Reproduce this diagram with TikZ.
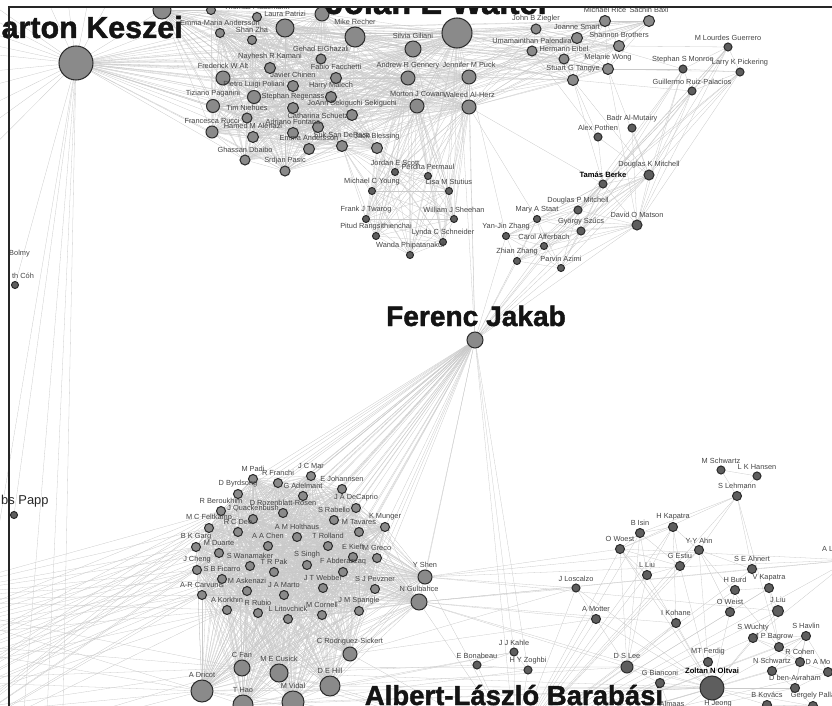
\documentclass[tikz,border=0pt]{standalone}
\usepackage{fontspec}
\setmainfont{Liberation Sans}
\newfontfamily\heavyfont{Liberation Sans}[BoldFeatures={FakeBold=1.5}]
\usepackage{tikz}
\usetikzlibrary{backgrounds}

\definecolor{nodefill}{HTML}{8A8A8A}
\definecolor{nodedark}{HTML}{5E5E5E}
\definecolor{nodeline}{HTML}{2E2E2E}
\definecolor{edgegray}{HTML}{C9C9C9}
\definecolor{labelgray}{HTML}{444444}

% groups of authors that are joined among themselves
\newcommand{\walternames}{ntopa,ntopb,fiddemann,patrizi,ntopc,emanders,zha,recher,elghazali,kamani,alt,facchetti,chinen,poliani,malech,paganini,regenass,sekiguchi,niehues,schuetz,rucci,alenazi,fontana,andersson,derosa,blessing,dbaibo,pasic,giliani,walter,gennery,puck,cowan,alherz}
\newcommand{\eastnames}{ziegler,rice,baxi,smart,brothers,palendira,eibel,wong,tangye}
\newcommand{\youngnames}{scott,permaul,young,stutius,twarog,sheehan,rangsi,schneider,phipat}
\newcommand{\berkenames}{berke,dkmitchell,dpmitchell,szucs,matson,staat,jzhang,afferbach,zzhang,azimi}
\newcommand{\guerreronames}{guerrero,monroe,pickering,ruiz}
\newcommand{\vidalnames}{padi,franchi,mar,johannsen,byrdsong,adelmant,beroukhim,rozenblatt,decaprio,quackenbush,rabello,feltkamp,deo,munger,tavares,holthaus,chen,rolland,garg,duarte,kieff,greco,wanamaker,singh,pak,abderazzaq,cheng,ficarro,askenazi,webber,pevzner,marto,carvunis,korkhin,rubio,litovchick,cornell,spangle}
\newcommand{\hubnames}{shen,gulbahce,rodriguez,fan,cusick,hill,dricot,hao,vidal}

\begin{document}
\begin{tikzpicture}
    [
    x=0.03cm, y=-0.03cm,
    author/.style={circle,draw=nodeline,fill=nodefill,line width=0.9pt,inner sep=0pt},
    dark/.style={fill=nodedark},
    sz/.style={minimum size=#1*0.06cm},
    every label/.style={font=\fontsize{6.3}{7}\selectfont,text=labelgray,inner sep=0.3pt},
    label distance=0.04cm,
    bigname/.style={font=\heavyfont\bfseries\fontsize{#1}{#1}\selectfont,text=black!92,inner sep=0pt},
    edge/.style={draw=edgegray,line width=0.25pt},
    frame/.style={draw=black!85,line width=1.2pt},
    ]
    \useasboundingbox (0,0) rectangle (832,706);

    \begin{scope}
    \clip (0,7) rectangle (832,706);

    % Keszei and the Walter group
    \node (keszei) at (76,63) [author, sz=17] {};
    \node (keszeiname) at (183,38) [bigname=26, anchor=base east] {Marton Keszei};
    \node (ntopa) at (162,10) [author, sz=9] {};
    \node (ntopb) at (211,10) [author, sz=4.5] {};
    \node (fiddemann) at (257,17) [author, sz=4.5, label=above:Thomas Fiddemann] {};
    \node (patrizi) at (285,28) [author, sz=9, label=above:Laura Patrizi] {};
    \node (ntopc) at (322,14) [author, sz=7] {};
    \node (emanders) at (220,33) [author, sz=4.5, label=above:Emma-Maria Andersson] {};
    \node (zha) at (252,40) [author, sz=4.5, label=above:Shan Zha] {};
    \node (recher) at (355,37) [author, sz=10, label=above:Mike Recher] {};
    \node (elghazali) at (321,59) [author, sz=5, label=above:Gehad ElGhazali] {};
    \node (kamani) at (270,68) [author, sz=5.5, label=above:Nayhesh R Kamani] {};
    \node (alt) at (223,78) [author, sz=7, label=above:Frederick W Alt] {};
    \node (facchetti) at (336,78) [author, sz=5.5, label=above:Fabio Facchetti] {};
    \node (chinen) at (293,86) [author, sz=5.5, label=above:Javier Chinen] {};
    \node (poliani) at (254,97) [author, sz=6.5, label=above:Pietro Luigi Poliani] {};
    \node (malech) at (331,97) [author, sz=5.5, label=above:Harry Malech] {};
    \node (paganini) at (213,106) [author, sz=6.5, label=above:Tiziano Paganini] {};
    \node (regenass) at (293,108) [author, sz=5.5, label=above:Stephan Regenass] {};
    \node (sekiguchi) at (352,115) [author, sz=5.5, label=above:JoAnn Sekiguchi Sekiguchi] {};
    \node (niehues) at (247,118) [author, sz=5, label=above:Tim Niehues] {};
    \node (schuetz) at (318,127) [author, sz=5.5, label=above:Catharina Schuetz] {};
    \node (rucci) at (212,132) [author, sz=6, label=above:Francesca Rucci] {};
    \node (alenazi) at (253,137) [author, sz=5.5, label=above:Hamed M Alenazi] {};
    \node (fontana) at (293,133) [author, sz=5.5, label=above:Adriano Fontana] {};
    \node (andersson) at (309,149) [author, sz=5.5, label=above:Emma Andersson] {};
    \node (derosa) at (342,146) [author, sz=5.5, label=above:Suk San DeRosa] {};
    \node (blessing) at (377,148) [author, sz=5.5, label=above:Jack Blessing] {};
    \node (dbaibo) at (245,160) [author, sz=5, label=above:Ghassan Dbaibo] {};
    \node (pasic) at (285,171) [author, sz=5, label=above:Srdjan Pasic] {};
    \node (giliani) at (413,49) [author, sz=8, label=above:Silvia Giliani] {};
    \node (walter) at (457,33) [author, sz=15] {};
    \node (waltername) at (438,14) [bigname=28, anchor=base] {Jolan E Walter};
    \node (gennery) at (408,78) [author, sz=7, label=above:Andrew R Gennery] {};
    \node (puck) at (469,77) [author, sz=7, label=above:Jennifer M Puck] {};
    \node (cowan) at (417,106) [author, sz=7, label=above:Morton J Cowan] {};
    \node (alherz) at (469,107) [author, sz=7, label=above:Waleed Al-Herz] {};
    \node (ziegler) at (536,29) [author, sz=5, label=above:John B Ziegler] {};
    \node (rice) at (605,21) [author, sz=5.5, label=above:Michael Rice] {};
    \node (baxi) at (649,21) [author, sz=5.5, label=above:Sachin Baxi] {};
    \node (smart) at (577,38) [author, sz=5.5, label=above:Joanne Smart] {};
    \node (brothers) at (619,46) [author, sz=5.5, label=above:Shannon Brothers] {};
    \node (palendira) at (532,51) [author, sz=5, label=above:Umamainthan Palendira] {};
    \node (eibel) at (564,59) [author, sz=5, label=above:Hermann Eibel] {};
    \node (wong) at (608,69) [author, sz=5.5, label=above:Melanie Wong] {};
    \node (tangye) at (573,80) [author, sz=5.5, label=above:Stuart G Tangye] {};

    % Young group
    \node (scott) at (395,172) [author, dark, sz=3.5, label=above:Jordan E Scott] {};
    \node (permaul) at (428,176) [author, dark, sz=3.5, label=above:Perdita Permaul] {};
    \node (young) at (372,191) [author, dark, sz=3.5, label=above:Michael C Young] {};
    \node (stutius) at (449,191) [author, dark, sz=3.5, label=above:Lisa M Stutius] {};
    \node (twarog) at (366,219) [author, dark, sz=3.5, label=above:Frank J Twarog] {};
    \node (sheehan) at (454,219) [author, dark, sz=3.5, label=above:William J Sheehan] {};
    \node (rangsi) at (376,236) [author, dark, sz=3.5, label=above:Pitud Rangsithienchai] {};
    \node (schneider) at (443,242) [author, dark, sz=3.5, label=above:Lynda C Schneider] {};
    \node (phipat) at (410,255) [author, dark, sz=3.5, label=above:Wanda Phipatanakul] {};

    % Berke group
    \node (guerrero) at (728,47) [author, dark, sz=4, label=above:M Lourdes Guerrero] {};
    \node (monroe) at (683,69) [author, dark, sz=4, label=above:Stephan S Monroe] {};
    \node (pickering) at (740,72) [author, dark, sz=4, label=above:Larry K Pickering] {};
    \node (ruiz) at (692,91) [author, dark, sz=4, label=above:Guillermo Ruiz-Palacios] {};
    \node (almutairy) at (632,128) [author, dark, sz=4, label=above:Badr Al-Mutairy] {};
    \node (pothen) at (598,137) [author, dark, sz=4, label=above:Alex Pothen] {};
    \node (dkmitchell) at (649,175) [author, dark, sz=5, label=above:Douglas K Mitchell] {};
    \node (berke) at (603,184) [author, dark, sz=4, label={[font=\bfseries\fontsize{6.5}{7}\selectfont,text=black]above:Tamás Berke}] {};
    \node (dpmitchell) at (578,210) [author, dark, sz=4, label=above:Douglas P Mitchell] {};
    \node (szucs) at (581,231) [author, dark, sz=4, label=above:György Szűcs] {};
    \node (matson) at (637,225) [author, dark, sz=5, label=above:David O Matson] {};
    \node (staat) at (537,219) [author, dark, sz=3.5, label=above:Mary A Staat] {};
    \node (jzhang) at (506,236) [author, dark, sz=3.5, label=above:Yan-Jin Zhang] {};
    \node (afferbach) at (544,246) [author, dark, sz=3.5, label=above:Carol Afferbach] {};
    \node (zzhang) at (517,261) [author, dark, sz=3.5, label=above:Zhian Zhang] {};
    \node (azimi) at (561,268) [author, dark, sz=3.5, label=above:Parvin Azimi] {};

    % Jakab
    \node (jakab) at (475,340) [author, sz=8] {};
    \node (jakabname) at (476,326) [bigname=24, anchor=base] {Ferenc Jakab};

    % left edge
    \node (bolmy) at (9,254) [anchor=west, font=\fontsize{6.3}{7}\selectfont, text=labelgray, inner sep=0pt] {Bolmy};
    \node (thcoh) at (15,285) [author, dark, sz=3.5, label={[xshift=0.24cm]above:th Cóh}] {};
    \node (papp) at (14,515) [author, dark, sz=3.5] {};
    \node (pappname) at (1,501) [anchor=west, font=\fontsize{11}{11}\selectfont, text=black!85, inner sep=0pt] {bs Papp};

    % Vidal group
    \node (padi) at (253,479) [author, sz=4.5, label=above:M Padi] {};
    \node (franchi) at (278,483) [author, sz=4.5, label=above:R Franchi] {};
    \node (mar) at (311,476) [author, sz=4.5, label=above:J C Mar] {};
    \node (johannsen) at (342,489) [author, sz=4.5, label=above:E Johannsen] {};
    \node (byrdsong) at (238,494) [author, sz=4.5, label=above:D Byrdsong] {};
    \node (adelmant) at (303,496) [author, sz=4.5, label=above:G Adelmant] {};
    \node (beroukhim) at (221,511) [author, sz=4.5, label=above:R Beroukhim] {};
    \node (rozenblatt) at (283,513) [author, sz=4.5, label=above:D Rozenblatt-Rosen] {};
    \node (decaprio) at (356,508) [author, sz=4.5, label=above:J A DeCaprio] {};
    \node (quackenbush) at (253,519) [author, sz=4.5, label=above:J Quackenbush] {};
    \node (rabello) at (334,520) [author, sz=4.5, label=above:S Rabello] {};
    \node (feltkamp) at (209,528) [author, sz=4.5, label=above:M C Feltkamp] {};
    \node (deo) at (238,532) [author, sz=4.5, label=above:R C Deo] {};
    \node (munger) at (385,527) [author, sz=4.5, label=above:K Munger] {};
    \node (tavares) at (359,532) [author, sz=4.5, label=above:M Tavares] {};
    \node (holthaus) at (297,537) [author, sz=4.5, label=above:A M Holthaus] {};
    \node (chen) at (268,546) [author, sz=4.5, label=above:A A Chen] {};
    \node (rolland) at (328,546) [author, sz=4.5, label=above:T Rolland] {};
    \node (garg) at (196,547) [author, sz=4.5, label=above:B K Garg] {};
    \node (duarte) at (219,553) [author, sz=4.5, label=above:M Duarte] {};
    \node (kieff) at (353,557) [author, sz=4.5, label=above:E Kieff] {};
    \node (greco) at (377,558) [author, sz=4.5, label=above:M Greco] {};
    \node (wanamaker) at (250,566) [author, sz=4.5, label=above:S Wanamaker] {};
    \node (singh) at (307,565) [author, sz=4.5, label=above:S Singh] {};
    \node (pak) at (274,572) [author, sz=4.5, label=above:T R Pak] {};
    \node (abderazzaq) at (343,572) [author, sz=4.5, label=above:F Abderazzaq] {};
    \node (cheng) at (197,570) [author, sz=4.5, label=above:J Cheng] {};
    \node (ficarro) at (222,579) [author, sz=4.5, label=above:S B Ficarro] {};
    \node (askenazi) at (247,591) [author, sz=4.5, label=above:M Askenazi] {};
    \node (webber) at (323,588) [author, sz=4.5, label=above:J T Webber] {};
    \node (pevzner) at (375,589) [author, sz=4.5, label=above:S J Pevzner] {};
    \node (marto) at (284,595) [author, sz=4.5, label=above:J A Marto] {};
    \node (carvunis) at (202,595) [author, sz=4.5, label=above:A-R Carvunis] {};
    \node (korkhin) at (227,610) [author, sz=4.5, label=above:A Korkhin] {};
    \node (rubio) at (258,613) [author, sz=4.5, label=above:R Rubio] {};
    \node (litovchick) at (288,619) [author, sz=4.5, label=above:L Litovchick] {};
    \node (cornell) at (322,615) [author, sz=4.5, label=above:M Cornell] {};
    \node (spangle) at (359,611) [author, sz=4.5, label=above:J M Spangle] {};
    \node (shen) at (425,577) [author, sz=7, label=above:Y Shen] {};
    \node (gulbahce) at (419,602) [author, sz=8, label=above:N Gulbahce] {};
    \node (rodriguez) at (350,654) [author, sz=7, label=above:C Rodriguez-Sickert] {};
    \node (fan) at (242,668) [author, sz=8, label=above:C Fan] {};
    \node (cusick) at (279,673) [author, sz=9, label=above:M E Cusick] {};
    \node (hill) at (330,686) [author, sz=10, label=above:D E Hill] {};
    \node (dricot) at (202,691) [author, sz=11, label=above:A Dricot] {};
    \node (hao) at (243,705) [author, sz=10, label=above:T Hao] {};
    \node (vidal) at (293,702) [author, sz=11, label=above:M Vidal] {};

    % Barabasi group
    \node (baraname) at (514,705) [bigname=23.5, anchor=base] {Albert-László Barabási};
    \node (mschwartz) at (721,470) [author, dark, sz=4, label=above:M Schwartz] {};
    \node (hansen) at (757,476) [author, dark, sz=4, label=above:L K Hansen] {};
    \node (lehmann) at (737,496) [author, dark, sz=4.5, label=above:S Lehmann] {};
    \node (hkapatra) at (673,527) [author, dark, sz=4.5, label=above:H Kapatra] {};
    \node (isin) at (640,533) [author, dark, sz=4.5, label=above:B Isin] {};
    \node (woest) at (620,549) [author, dark, sz=4.5, label=above:O Woest] {};
    \node (ahn) at (699,550) [author, dark, sz=4.5, label=above:Y-Y Ahn] {};
    \node (estiu) at (680,566) [author, dark, sz=4.5, label=above:G Estiu] {};
    \node (lliu) at (647,575) [author, dark, sz=4.5, label=above:L Liu] {};
    \node (ahnert) at (752,569) [author, dark, sz=4.5, label=above:S E Ahnert] {};
    \node (burd) at (735,590) [author, dark, sz=4.5, label=above:H Burd] {};
    \node (vkapatra) at (769,588) [author, dark, sz=4.5, label=above:V Kapatra] {};
    \node (weist) at (730,612) [author, dark, sz=4.5, label=above:O Weist] {};
    \node (jliu) at (778,611) [author, dark, sz=5.5, label=above:J Liu] {};
    \node (kohane) at (676,623) [author, dark, sz=4.5, label=above:I Kohane] {};
    \node (wuchty) at (753,638) [author, dark, sz=4.5, label=above:S Wuchty] {};
    \node (havlin) at (806,636) [author, dark, sz=4.5, label=above:S Havlin] {};
    \node (bagrow) at (779,647) [author, dark, sz=4.5, label={[xshift=-0.15cm]above:J P Bagrow}] {};
    \node (cohen) at (800,662) [author, dark, sz=4.5, label=above:R Cohen] {};
    \node (nschwartz) at (772,671) [author, dark, sz=4.5, label=above:N Schwartz] {};
    \node (damo) at (828,672) [author, dark, sz=4.5, label={[xshift=-0.3cm]above:D A Mo}] {};
    \node (benavraham) at (795,688) [author, dark, sz=4.5, label=above:D ben-Avraham] {};
    \node (kovacs) at (767,705) [author, dark, sz=4.5, label=above:B Kovács] {};
    \node (palla) at (813,706) [author, dark, sz=4.5, label=above:Gergely Palla] {};
    \node (bianconi) at (660,683) [author, dark, sz=4.5, label=above:G Bianconi] {};
    \node (dslee) at (627,667) [author, dark, sz=6, label=above:D S Lee] {};
    \node (ferdig) at (708,662) [author, dark, sz=4.5, label=above:MT Ferdig] {};
    \node (oltvai) at (712,688) [author, dark, sz=12, label={[font=\bfseries\fontsize{6.5}{7}\selectfont,text=black]above:Zoltan N Oltvai}] {};
    \node (almaas) at (672,714) [author, dark, sz=4.5, label=above:Almaas] {};
    \node (jeong) at (718,714) [author, dark, sz=4.5, label=above:H Jeong] {};
    \node (loscalzo) at (576,588) [author, dark, sz=4, label=above:J Loscalzo] {};
    \node (motter) at (596,619) [author, dark, sz=4.5, label=above:A Motter] {};
    \node (kahle) at (514,652) [author, dark, sz=4, label=above:J J Kahle] {};
    \node (bonabeau) at (477,665) [author, dark, sz=4, label=above:E Bonabeau] {};
    \node (zoghbi) at (528,670) [author, dark, sz=4, label=above:H Y Zoghbi] {};
    \node (altext) at (822,549) [anchor=west, font=\fontsize{6.3}{7}\selectfont, text=labelgray, inner sep=0pt] {A L};
    \end{scope}

    % ends outside the picture
    \coordinate (alnode) at (850,560);
    \coordinate (alb) at (515,745);
    \foreach \y [count=\k] in {-60,-30,0,25,45,80,110,150,190,240} \coordinate (koff\k) at (-100,\y);
    \foreach \x [count=\k] in {20,60,100,140} \coordinate (kup\k) at (\x,-60);
    \foreach \x [count=\k] in {-40,20,45,62} \coordinate (kdown\k) at (\x,760);
    \foreach \y [count=\k] in {600,640,680,720,770} \coordinate (loff\k) at (-100,\y);

    \begin{scope}[on background layer]
    \clip (0,7) rectangle (832,706);
    % Keszei fan
    \foreach \b in \walternames \draw[edge] (keszei) -- (\b);
    \foreach \k in {1,...,10} \draw[edge] (keszei) -- (koff\k);
    \foreach \k in {1,...,4} \draw[edge] (keszei) -- (kup\k);
    \foreach \k in {1,...,4} \draw[edge] (keszei) -- (kdown\k);
    \draw[edge] (keszei) -- (thcoh);
    \draw[edge] (keszei) -- (papp);
    \foreach \b in {ziegler,palendira,eibel,tangye} \draw[edge] (keszei) -- (\b);

    % Walter group
    \foreach \a [count=\i] in \walternames {
      \foreach \b [count=\j] in \walternames {
        \ifnum\j>\i \draw[edge] (\a) -- (\b); \fi
      }
    }
    \foreach \a [count=\i] in \eastnames {
      \foreach \b [count=\j] in \eastnames {
        \ifnum\j>\i \draw[edge] (\a) -- (\b); \fi
      }
      \foreach \b in {walter,puck,alherz,cowan,gennery,giliani,recher,patrizi} \draw[edge] (\a) -- (\b);
    }
    \foreach \a [count=\i] in \youngnames {
      \foreach \b [count=\j] in \youngnames {
        \ifnum\j>\i \draw[edge] (\a) -- (\b); \fi
      }
      \foreach \b in {walter,puck,alherz,cowan,gennery,giliani,blessing,derosa} \draw[edge] (\a) -- (\b);
    }

    % Berke group
    \foreach \a [count=\i] in \berkenames {
      \foreach \b [count=\j] in \berkenames {
        \ifnum\j>\i \draw[edge] (\a) -- (\b); \fi
      }
      \draw[edge] (jakab) -- (\a);
    }
    \foreach \a [count=\i] in \guerreronames {
      \foreach \b [count=\j] in \guerreronames {
        \ifnum\j>\i \draw[edge] (\a) -- (\b); \fi
      }
      \foreach \b in {berke,dkmitchell,matson,dpmitchell,szucs} \draw[edge] (\a) -- (\b);
    }
    \foreach \a/\b in {tangye/berke,tangye/dkmitchell,wong/dkmitchell,wong/matson,eibel/pothen,
      palendira/pothen,alherz/berke,alherz/staat,puck/jzhang,pothen/dkmitchell,almutairy/dkmitchell,
      almutairy/matson,pothen/berke,brothers/guerrero,wong/monroe,wong/pickering,tangye/ruiz,
      smart/monroe,jakab/walter,jakab/alherz,jakab/puck}
      \draw[edge] (\a) -- (\b);

    % Vidal group
    \foreach \a [count=\i] in \vidalnames {
      \foreach \b [count=\j] in \vidalnames {
        \ifnum\j>\i \draw[edge] (\a) -- (\b); \fi
      }
      \foreach \b in \hubnames \draw[edge] (\a) -- (\b);
      \draw[edge] (jakab) -- (\a);
    }
    \foreach \a [count=\i] in \hubnames {
      \foreach \b [count=\j] in \hubnames {
        \ifnum\j>\i \draw[edge] (\a) -- (\b); \fi
      }
      \draw[edge] (alb) -- (\a);
    }
    \foreach \k in {1,...,5}
      \foreach \b in {carvunis,cheng,garg,feltkamp,beroukhim,korkhin,dricot,fan,ficarro,duarte}
        \draw[edge] (loff\k) -- (\b);

    % Barabasi group
    \foreach \b in {dslee,bianconi,oltvai,kahle,bonabeau,zoghbi,motter,loscalzo,woest,ahn,estiu,
      kohane,ferdig,wuchty,havlin,bagrow,cohen,nschwartz,benavraham,lliu,isin,hkapatra,weist,burd,
      ahnert,vkapatra,jliu,damo,kovacs,palla,almaas,jeong,alnode,lehmann}
      \draw[edge] (alb) -- (\b);
    \foreach \a/\b in {mschwartz/hansen,mschwartz/lehmann,hansen/lehmann,lehmann/ahn,lehmann/woest,
      lehmann/isin,lehmann/bagrow,lehmann/ahnert,isin/hkapatra,isin/woest,isin/estiu,isin/lliu,
      hkapatra/woest,hkapatra/estiu,hkapatra/lliu,woest/estiu,woest/lliu,estiu/lliu,hkapatra/kohane,
      woest/kohane,ahn/estiu,ahn/hkapatra,ahn/ahnert,ahn/bagrow,ahn/ferdig,ahn/weist,burd/vkapatra,
      burd/weist,vkapatra/jliu,vkapatra/weist,vkapatra/bagrow,wuchty/bagrow,wuchty/havlin,
      wuchty/cohen,bagrow/havlin,bagrow/cohen,havlin/cohen,cohen/nschwartz,cohen/benavraham,
      havlin/nschwartz,havlin/benavraham,nschwartz/benavraham,cohen/damo,havlin/damo,
      benavraham/damo,oltvai/dslee,oltvai/bianconi,oltvai/ferdig,oltvai/kohane,oltvai/weist,
      oltvai/jliu,oltvai/estiu,oltvai/lliu,oltvai/woest,oltvai/motter,oltvai/loscalzo,oltvai/kovacs,
      oltvai/palla,oltvai/almaas,oltvai/jeong,oltvai/havlin,oltvai/wuchty,oltvai/benavraham,
      dslee/bianconi,dslee/motter,dslee/kohane,dslee/lliu,dslee/woest,dslee/isin,bianconi/almaas,
      kovacs/palla,palla/benavraham,shen/woest,shen/ahn,shen/loscalzo,shen/alnode,shen/jliu,
      gulbahce/loscalzo,gulbahce/motter,gulbahce/dslee,gulbahce/kohane,gulbahce/alnode,
      gulbahce/oltvai,gulbahce/ahnert,kahle/zoghbi,bonabeau/zoghbi,kahle/bonabeau,loscalzo/motter,
      alnode/woest,alnode/wuchty,alnode/ahnert,hill/oltvai,vidal/oltvai,cusick/oltvai,dricot/oltvai,
      hao/oltvai,fan/dslee,hill/dslee,rodriguez/loscalzo,rodriguez/motter,hill/kahle,vidal/zoghbi,
      cusick/bonabeau,hao/kahle,jakab/gulbahce,jakab/shen,jakab/kahle,jakab/alb,jakab/zoghbi}
      \draw[edge] (\a) -- (\b);
    \end{scope}

    \draw[frame] (832,7) -- (9,7) -- (9,706);
  \end{tikzpicture}
\end{document}
